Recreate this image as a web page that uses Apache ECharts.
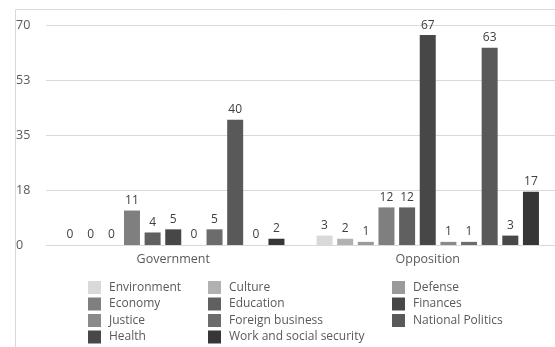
<!DOCTYPE html>
<html><head><meta charset="utf-8">
<script src="https://cdn.jsdelivr.net/npm/echarts@6/dist/echarts.min.js"></script>
<style>html,body{margin:0;padding:0;background:#fff}#c{width:555px;height:347px}</style>
</head><body><div id="c"></div>
<script>
const categories = ['Government', 'Opposition'];
const seriesNames = ['Environment','Culture','Defense','Economy','Education','Finances','Justice','Foreign business','National Politics','Health','Work and social security'];
const governmentValues = [0,0,0,11,4,5,0,5,40,0,2];
const oppositionValues = [3,2,1,12,12,67,1,1,63,3,17];
const yTicks = [0,17.5,35,52.5,70];
const colors = ['#d9d9d9','#b1b1b1','#9a9a9a','#7f7f7f','#606060','#474747','#8a8a8a','#6c6c6c','#595959','#484848','#363636'];

const FONT = 'Open Sans';
const series = seriesNames.map((n,i)=>({
  name:n, type:'bar', data:[governmentValues[i], oppositionValues[i]],
  barWidth:16, barGap:'29%',
  itemStyle:{color:colors[i]},
  label:{show:true, position:'top', distance:4, color:'#404040', fontFamily:FONT, fontSize:12},
  emphasis:{disabled:true}
}));
const legendCols = [[0,3,6,9],[1,4,7,10],[2,5,8]];
const legendLeft = [88,208,392];
const legends = legendCols.map((c,k)=>({
  orient:'vertical', left:legendLeft[k], top:281, height:66, padding:0,
  itemWidth:13, itemHeight:13, itemGap:3.5,
  icon:'rect', data:c.map(i=>seriesNames[i]),
  textStyle:{color:'#595959', fontFamily:FONT, fontSize:12, padding:[0,0,0,3]}
}));
const chart = echarts.init(document.getElementById('c'), null, {renderer:'canvas'});
chart.setOption({
  animation:false,
  color:colors,
  graphic:[{type:'rect', shape:{x:15.5,y:9.5,width:600,height:400}, style:{fill:'none', stroke:'#d9d9d9', lineWidth:1}}],
  grid:{left:46, right:-7, top:25.7, bottom:102, containLabel:false},
  legend:legends,
  xAxis:{type:'category', data:categories,
    axisLine:{lineStyle:{color:'#d9d9d9'}}, axisTick:{show:false},
    axisLabel:{color:'#595959', fontFamily:FONT, fontSize:12.5, margin:8}},
  yAxis:{type:'value', min:0, max:70, interval:17.5,
    axisLine:{show:false}, axisTick:{show:false},
    splitLine:{lineStyle:{color:'#d9d9d9'}},
    axisLabel:{color:'#595959', fontFamily:FONT, fontSize:12.5, align:'left', margin:30,
      formatter:v=>String(Math.round(v))}},
  series:series
});
</script></body></html>
